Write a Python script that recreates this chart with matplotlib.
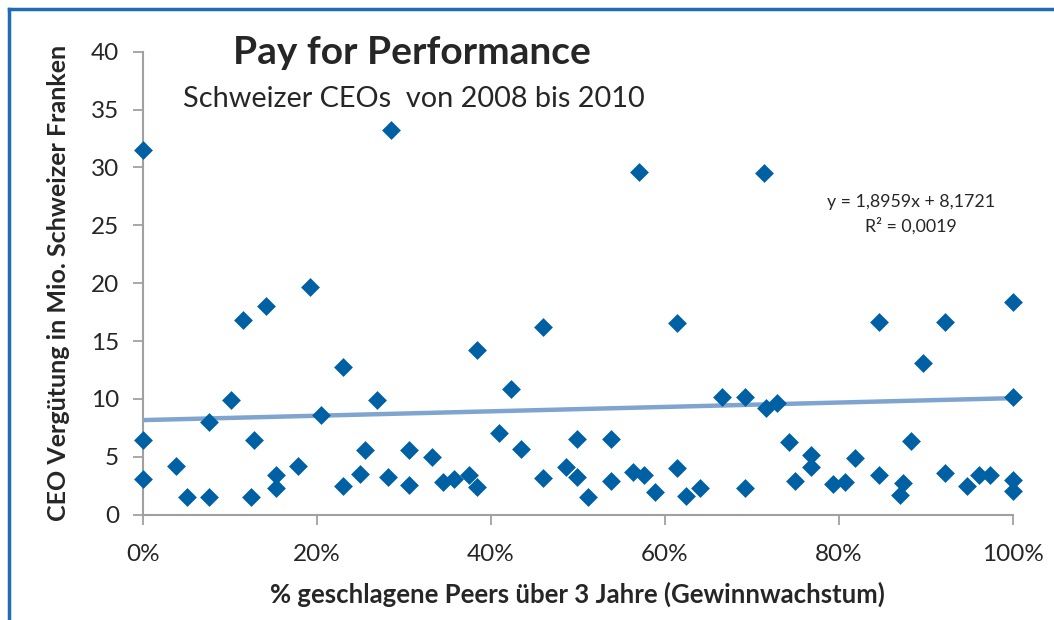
import matplotlib
matplotlib.use('Agg')
import matplotlib.pyplot as plt
from matplotlib.lines import Line2D
from matplotlib.ticker import PercentFormatter, MultipleLocator

# share of peers beaten (0..1) and CEO pay in mio. CHF
peers_beaten = [
    0.0, 0.285, 0.0, 0.0, 0.038, 0.051, 0.076, 0.076, 0.102, 0.115,
    0.142, 0.192, 0.128, 0.125, 0.153, 0.153, 0.1785, 0.205, 0.23, 0.269,
    0.256, 0.25, 0.23, 0.282, 0.306, 0.306, 0.3325, 0.3455, 0.358, 0.375,
    0.384, 0.384, 0.4605, 0.423, 0.6145, 0.409, 0.435, 0.571, 0.4605, 0.4995,
    0.4865, 0.4995, 0.512, 0.538, 0.538, 0.563, 0.576, 0.589, 0.6145, 0.6245,
    0.6405, 0.714, 0.666, 0.692, 0.717, 0.729, 0.692, 0.7425, 0.75, 0.7685,
    0.7685, 0.793, 0.807, 0.819, 0.846, 0.846, 0.8965, 0.883, 0.874, 0.870,
    0.9225, 0.9225, 0.947, 0.961, 0.974, 1.0, 1.0, 1.0, 1.0,
]
ceo_pay = [
    31.5, 33.2, 6.44, 3.05, 4.2, 1.5, 1.55, 8.05, 9.95, 16.8,
    18.05, 19.7, 6.44, 1.5, 3.45, 2.3, 4.2, 8.6, 12.76, 9.9,
    5.58, 3.5, 2.47, 3.22, 5.58, 2.59, 4.95, 2.82, 3.1, 3.45,
    14.26, 2.36, 16.2, 10.86, 16.6, 7.07, 5.69, 29.6, 3.16, 6.5,
    4.14, 3.22, 1.55, 6.5, 2.93, 3.68, 3.45, 1.96, 4.03, 1.61,
    2.3, 29.54, 10.17, 10.17, 9.26, 9.66, 2.3, 6.27, 2.93, 5.12,
    4.14, 2.65, 2.82, 4.89, 16.67, 3.45, 13.1, 6.33, 2.76, 1.72,
    16.67, 3.62, 2.47, 3.45, 3.4, 18.34, 10.17, 2.99, 2.07,
]

# linear trendline as reported in the chart
slope = 1.8959
intercept = 8.1721
trend_x = [0.0, 1.0]

title = "Pay for Performance"
subtitle = "Schweizer CEOs  von 2008 bis 2010"
equation = "y = 1,8959x + 8,1721\nR² = 0,0019"
x_label = "% geschlagene Peers über 3 Jahre (Gewinnwachstum)"
y_label = "CEO Vergütung in Mio. Schweizer Franken"

plt.rcParams['font.family'] = ['Lato', 'DejaVu Sans']

fig = plt.figure(figsize=(10.54, 6.2), dpi=100)
ax = fig.add_axes([142.7 / 1054, 1 - 514.7 / 620, 870 / 1054, 463 / 620])

ax.plot(trend_x, [intercept + slope * x for x in trend_x],
        color="#7fa4cf", linewidth=3.2, solid_capstyle="round", zorder=2)
ax.scatter(peers_beaten, ceo_pay, marker="D", s=92, color="#0060a4",
           linewidths=0, zorder=3, clip_on=False)

ax.set_xlim(0, 1)
ax.set_ylim(0, 40)
ax.xaxis.set_major_locator(MultipleLocator(0.2))
ax.xaxis.set_major_formatter(PercentFormatter(1.0, decimals=0))
ax.yaxis.set_major_locator(MultipleLocator(5))

for side in ["top", "right"]:
    ax.spines[side].set_visible(False)
for side in ["left", "bottom"]:
    ax.spines[side].set_color("#a0a0a0")
    ax.spines[side].set_linewidth(1.5)
ax.tick_params(colors="#a0a0a0", length=7, width=1.3, labelcolor="#262626",
               labelsize=17.5)
ax.tick_params(axis="x", pad=14)
ax.tick_params(axis="y", pad=10)

ax.set_xlabel(x_label, fontsize=18.5, fontweight="bold", color="#262626", labelpad=12)
ax.set_ylabel(y_label, fontsize=18, fontweight="bold", color="#262626", labelpad=15)

fig.text(412 / 1054, 1 - 52 / 620, title, fontsize=28, fontweight="bold",
         color="#262626", ha="center", va="center")
fig.text(414 / 1054, 1 - 99 / 620, subtitle, fontsize=20.8,
         color="#262626", ha="center", va="center")
fig.text(911 / 1054, 1 - 214 / 620, equation, fontsize=12.8, color="#262626",
         ha="center", va="center", linespacing=1.5)

# outer blue frame (top and left edges visible)
frame_kw = dict(color="#1f6cb0", linewidth=2.5, transform=fig.transFigure)
fig.add_artist(Line2D([9 / 1054, 1.0], [1 - 9 / 620, 1 - 9 / 620], **frame_kw))
fig.add_artist(Line2D([9 / 1054, 9 / 1054], [0.0, 1 - 9 / 620], **frame_kw))

fig.savefig("out.png", dpi=100)
plt.close(fig)
